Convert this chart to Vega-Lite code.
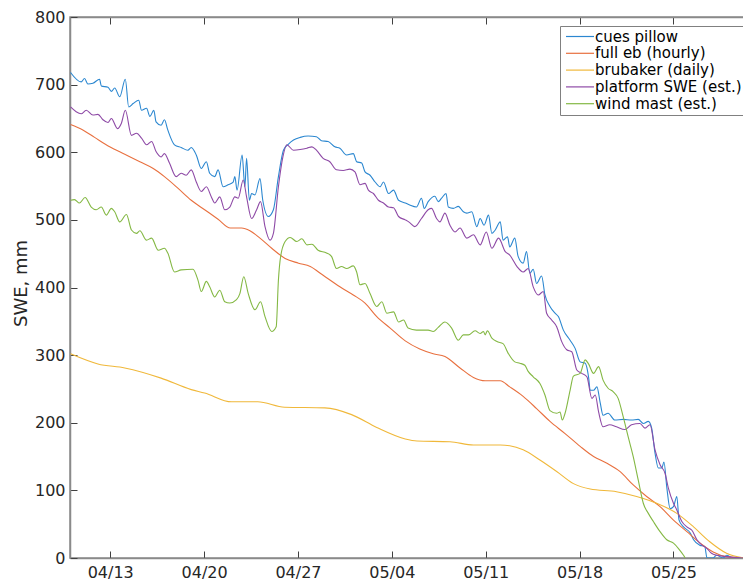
{
"$schema": "https://vega.github.io/schema/vega-lite/v6.json",
"width": 674, "height": 541,
"autosize": {"type": "none"},
"padding": {"left": 70, "top": 17, "right": 0, "bottom": 24},
"background": "white",
"config": {"view": {"stroke": "#8a8a8a", "strokeWidth": 1.5}, "font": "DejaVu Sans"},
"data": {"values": [
{"series":"cues pillow","time":"2017-04-10T01:00","swe":718},
{"series":"cues pillow","time":"2017-04-10T20:00","swe":704},
{"series":"cues pillow","time":"2017-04-11T02:00","swe":709},
{"series":"cues pillow","time":"2017-04-11T08:00","swe":701},
{"series":"cues pillow","time":"2017-04-11T17:00","swe":702},
{"series":"cues pillow","time":"2017-04-12T05:00","swe":708},
{"series":"cues pillow","time":"2017-04-12T08:00","swe":698},
{"series":"cues pillow","time":"2017-04-12T20:00","swe":696},
{"series":"cues pillow","time":"2017-04-13T02:00","swe":690},
{"series":"cues pillow","time":"2017-04-13T08:00","swe":695},
{"series":"cues pillow","time":"2017-04-13T17:00","swe":682},
{"series":"cues pillow","time":"2017-04-14T03:00","swe":708},
{"series":"cues pillow","time":"2017-04-14T09:00","swe":667},
{"series":"cues pillow","time":"2017-04-14T17:00","swe":672},
{"series":"cues pillow","time":"2017-04-15T03:00","swe":677},
{"series":"cues pillow","time":"2017-04-15T08:00","swe":662},
{"series":"cues pillow","time":"2017-04-15T17:00","swe":665},
{"series":"cues pillow","time":"2017-04-15T23:00","swe":653},
{"series":"cues pillow","time":"2017-04-16T06:00","swe":662},
{"series":"cues pillow","time":"2017-04-16T10:00","swe":645},
{"series":"cues pillow","time":"2017-04-16T19:00","swe":640},
{"series":"cues pillow","time":"2017-04-17T01:00","swe":648},
{"series":"cues pillow","time":"2017-04-17T07:00","swe":633},
{"series":"cues pillow","time":"2017-04-17T19:00","swe":611},
{"series":"cues pillow","time":"2017-04-18T07:00","swe":607},
{"series":"cues pillow","time":"2017-04-18T19:00","swe":603},
{"series":"cues pillow","time":"2017-04-19T01:00","swe":607},
{"series":"cues pillow","time":"2017-04-19T10:00","swe":596},
{"series":"cues pillow","time":"2017-04-19T19:00","swe":576},
{"series":"cues pillow","time":"2017-04-20T04:00","swe":586},
{"series":"cues pillow","time":"2017-04-20T10:00","swe":569},
{"series":"cues pillow","time":"2017-04-20T19:00","swe":564},
{"series":"cues pillow","time":"2017-04-21T01:00","swe":574},
{"series":"cues pillow","time":"2017-04-21T10:00","swe":549},
{"series":"cues pillow","time":"2017-04-21T19:00","swe":552},
{"series":"cues pillow","time":"2017-04-22T04:00","swe":556},
{"series":"cues pillow","time":"2017-04-22T07:00","swe":564},
{"series":"cues pillow","time":"2017-04-22T11:00","swe":544},
{"series":"cues pillow","time":"2017-04-22T20:00","swe":596},
{"series":"cues pillow","time":"2017-04-23T01:00","swe":549},
{"series":"cues pillow","time":"2017-04-23T04:00","swe":591},
{"series":"cues pillow","time":"2017-04-23T09:00","swe":529},
{"series":"cues pillow","time":"2017-04-23T13:00","swe":539},
{"series":"cues pillow","time":"2017-04-23T19:00","swe":537},
{"series":"cues pillow","time":"2017-04-24T04:00","swe":561},
{"series":"cues pillow","time":"2017-04-24T09:00","swe":529},
{"series":"cues pillow","time":"2017-04-24T19:00","swe":505},
{"series":"cues pillow","time":"2017-04-25T04:00","swe":515},
{"series":"cues pillow","time":"2017-04-25T13:00","swe":564},
{"series":"cues pillow","time":"2017-04-25T22:00","swe":603},
{"series":"cues pillow","time":"2017-04-26T07:00","swe":612},
{"series":"cues pillow","time":"2017-04-26T16:00","swe":618},
{"series":"cues pillow","time":"2017-04-27T04:00","swe":622},
{"series":"cues pillow","time":"2017-04-27T18:00","swe":624},
{"series":"cues pillow","time":"2017-04-28T09:00","swe":623},
{"series":"cues pillow","time":"2017-04-28T18:00","swe":617},
{"series":"cues pillow","time":"2017-04-29T06:00","swe":616},
{"series":"cues pillow","time":"2017-04-29T18:00","swe":608},
{"series":"cues pillow","time":"2017-04-30T03:00","swe":606},
{"series":"cues pillow","time":"2017-04-30T15:00","swe":596},
{"series":"cues pillow","time":"2017-05-01T03:00","swe":598},
{"series":"cues pillow","time":"2017-05-01T09:00","swe":586},
{"series":"cues pillow","time":"2017-05-01T18:00","swe":584},
{"series":"cues pillow","time":"2017-05-02T00:00","swe":571},
{"series":"cues pillow","time":"2017-05-02T09:00","swe":566},
{"series":"cues pillow","time":"2017-05-02T18:00","swe":556},
{"series":"cues pillow","time":"2017-05-03T03:00","swe":549},
{"series":"cues pillow","time":"2017-05-03T09:00","swe":556},
{"series":"cues pillow","time":"2017-05-03T18:00","swe":539},
{"series":"cues pillow","time":"2017-05-04T03:00","swe":544},
{"series":"cues pillow","time":"2017-05-04T12:00","swe":529},
{"series":"cues pillow","time":"2017-05-05T00:00","swe":525},
{"series":"cues pillow","time":"2017-05-05T08:00","swe":522},
{"series":"cues pillow","time":"2017-05-05T20:00","swe":519},
{"series":"cues pillow","time":"2017-05-06T05:00","swe":532},
{"series":"cues pillow","time":"2017-05-06T10:00","swe":517},
{"series":"cues pillow","time":"2017-05-06T17:00","swe":527},
{"series":"cues pillow","time":"2017-05-07T05:00","swe":535},
{"series":"cues pillow","time":"2017-05-07T11:00","swe":527},
{"series":"cues pillow","time":"2017-05-07T17:00","swe":532},
{"series":"cues pillow","time":"2017-05-08T01:00","swe":539},
{"series":"cues pillow","time":"2017-05-08T05:00","swe":519},
{"series":"cues pillow","time":"2017-05-08T14:00","swe":517},
{"series":"cues pillow","time":"2017-05-08T23:00","swe":520},
{"series":"cues pillow","time":"2017-05-09T08:00","swe":512},
{"series":"cues pillow","time":"2017-05-09T14:00","swe":510},
{"series":"cues pillow","time":"2017-05-09T23:00","swe":512},
{"series":"cues pillow","time":"2017-05-10T08:00","swe":490},
{"series":"cues pillow","time":"2017-05-10T14:00","swe":502},
{"series":"cues pillow","time":"2017-05-10T21:00","swe":492},
{"series":"cues pillow","time":"2017-05-11T05:00","swe":507},
{"series":"cues pillow","time":"2017-05-11T11:00","swe":480},
{"series":"cues pillow","time":"2017-05-11T17:00","swe":485},
{"series":"cues pillow","time":"2017-05-12T02:00","swe":497},
{"series":"cues pillow","time":"2017-05-12T07:00","swe":470},
{"series":"cues pillow","time":"2017-05-12T15:00","swe":475},
{"series":"cues pillow","time":"2017-05-12T19:00","swe":460},
{"series":"cues pillow","time":"2017-05-13T04:00","swe":473},
{"series":"cues pillow","time":"2017-05-13T10:00","swe":446},
{"series":"cues pillow","time":"2017-05-13T19:00","swe":436},
{"series":"cues pillow","time":"2017-05-14T01:00","swe":453},
{"series":"cues pillow","time":"2017-05-14T07:00","swe":421},
{"series":"cues pillow","time":"2017-05-14T13:00","swe":427},
{"series":"cues pillow","time":"2017-05-14T19:00","swe":406},
{"series":"cues pillow","time":"2017-05-15T04:00","swe":417},
{"series":"cues pillow","time":"2017-05-15T10:00","swe":389},
{"series":"cues pillow","time":"2017-05-15T19:00","swe":372},
{"series":"cues pillow","time":"2017-05-16T04:00","swe":362},
{"series":"cues pillow","time":"2017-05-16T10:00","swe":357},
{"series":"cues pillow","time":"2017-05-16T19:00","swe":337},
{"series":"cues pillow","time":"2017-05-17T07:00","swe":322},
{"series":"cues pillow","time":"2017-05-17T16:00","swe":310},
{"series":"cues pillow","time":"2017-05-18T01:00","swe":290},
{"series":"cues pillow","time":"2017-05-18T10:00","swe":288},
{"series":"cues pillow","time":"2017-05-18T16:00","swe":268},
{"series":"cues pillow","time":"2017-05-18T19:00","swe":248},
{"series":"cues pillow","time":"2017-05-19T01:00","swe":248},
{"series":"cues pillow","time":"2017-05-19T07:00","swe":253},
{"series":"cues pillow","time":"2017-05-19T13:00","swe":229},
{"series":"cues pillow","time":"2017-05-19T18:00","swe":211},
{"series":"cues pillow","time":"2017-05-20T03:00","swe":214},
{"series":"cues pillow","time":"2017-05-20T15:00","swe":204},
{"series":"cues pillow","time":"2017-05-21T06:00","swe":205},
{"series":"cues pillow","time":"2017-05-21T21:00","swe":204},
{"series":"cues pillow","time":"2017-05-22T09:00","swe":205},
{"series":"cues pillow","time":"2017-05-22T18:00","swe":199},
{"series":"cues pillow","time":"2017-05-23T03:00","swe":202},
{"series":"cues pillow","time":"2017-05-23T09:00","swe":192},
{"series":"cues pillow","time":"2017-05-23T15:00","swe":155},
{"series":"cues pillow","time":"2017-05-23T21:00","swe":133},
{"series":"cues pillow","time":"2017-05-24T03:00","swe":133},
{"series":"cues pillow","time":"2017-05-24T07:00","swe":142},
{"series":"cues pillow","time":"2017-05-24T12:00","swe":105},
{"series":"cues pillow","time":"2017-05-24T18:00","swe":73},
{"series":"cues pillow","time":"2017-05-25T00:00","swe":76},
{"series":"cues pillow","time":"2017-05-25T06:00","swe":91},
{"series":"cues pillow","time":"2017-05-25T10:00","swe":56},
{"series":"cues pillow","time":"2017-05-25T18:00","swe":46},
{"series":"cues pillow","time":"2017-05-26T06:00","swe":37},
{"series":"cues pillow","time":"2017-05-26T12:00","swe":27},
{"series":"cues pillow","time":"2017-05-26T23:00","swe":19},
{"series":"cues pillow","time":"2017-05-27T08:00","swe":17},
{"series":"cues pillow","time":"2017-05-27T12:00","swe":0},
{"series":"cues pillow","time":"2017-05-27T23:00","swe":0},
{"series":"cues pillow","time":"2017-05-28T05:00","swe":4},
{"series":"cues pillow","time":"2017-05-28T17:00","swe":0},
{"series":"cues pillow","time":"2017-05-28T23:00","swe":4},
{"series":"cues pillow","time":"2017-05-29T11:00","swe":0},
{"series":"cues pillow","time":"2017-05-30T06:00","swe":0},
{"series":"full eb (hourly)","time":"2017-04-10T01:00","swe":641},
{"series":"full eb (hourly)","time":"2017-04-10T23:00","swe":633},
{"series":"full eb (hourly)","time":"2017-04-11T20:00","swe":622},
{"series":"full eb (hourly)","time":"2017-04-12T23:00","swe":608},
{"series":"full eb (hourly)","time":"2017-04-14T02:00","swe":597},
{"series":"full eb (hourly)","time":"2017-04-15T05:00","swe":586},
{"series":"full eb (hourly)","time":"2017-04-16T05:00","swe":576},
{"series":"full eb (hourly)","time":"2017-04-17T01:00","swe":564},
{"series":"full eb (hourly)","time":"2017-04-18T01:00","swe":547},
{"series":"full eb (hourly)","time":"2017-04-19T01:00","swe":529},
{"series":"full eb (hourly)","time":"2017-04-20T01:00","swe":515},
{"series":"full eb (hourly)","time":"2017-04-21T01:00","swe":501},
{"series":"full eb (hourly)","time":"2017-04-21T23:00","swe":488},
{"series":"full eb (hourly)","time":"2017-04-22T19:00","swe":488},
{"series":"full eb (hourly)","time":"2017-04-23T10:00","swe":484},
{"series":"full eb (hourly)","time":"2017-04-24T04:00","swe":473},
{"series":"full eb (hourly)","time":"2017-04-25T01:00","swe":458},
{"series":"full eb (hourly)","time":"2017-04-26T01:00","swe":443},
{"series":"full eb (hourly)","time":"2017-04-27T01:00","swe":436},
{"series":"full eb (hourly)","time":"2017-04-27T22:00","swe":431},
{"series":"full eb (hourly)","time":"2017-04-28T21:00","swe":418},
{"series":"full eb (hourly)","time":"2017-04-30T03:00","swe":401},
{"series":"full eb (hourly)","time":"2017-05-01T03:00","swe":389},
{"series":"full eb (hourly)","time":"2017-05-02T00:00","swe":377},
{"series":"full eb (hourly)","time":"2017-05-02T21:00","swe":357},
{"series":"full eb (hourly)","time":"2017-05-03T21:00","swe":340},
{"series":"full eb (hourly)","time":"2017-05-05T00:00","swe":321},
{"series":"full eb (hourly)","time":"2017-05-06T02:00","swe":309},
{"series":"full eb (hourly)","time":"2017-05-07T02:00","swe":302},
{"series":"full eb (hourly)","time":"2017-05-07T23:00","swe":298},
{"series":"full eb (hourly)","time":"2017-05-09T02:00","swe":281},
{"series":"full eb (hourly)","time":"2017-05-10T02:00","swe":267},
{"series":"full eb (hourly)","time":"2017-05-10T23:00","swe":262},
{"series":"full eb (hourly)","time":"2017-05-12T02:00","swe":262},
{"series":"full eb (hourly)","time":"2017-05-12T19:00","swe":253},
{"series":"full eb (hourly)","time":"2017-05-13T19:00","swe":239},
{"series":"full eb (hourly)","time":"2017-05-14T19:00","swe":221},
{"series":"full eb (hourly)","time":"2017-05-15T19:00","swe":202},
{"series":"full eb (hourly)","time":"2017-05-16T22:00","swe":184},
{"series":"full eb (hourly)","time":"2017-05-18T01:00","swe":165},
{"series":"full eb (hourly)","time":"2017-05-19T01:00","swe":150},
{"series":"full eb (hourly)","time":"2017-05-20T01:00","swe":140},
{"series":"full eb (hourly)","time":"2017-05-21T00:00","swe":128},
{"series":"full eb (hourly)","time":"2017-05-22T00:00","swe":108},
{"series":"full eb (hourly)","time":"2017-05-23T00:00","swe":91},
{"series":"full eb (hourly)","time":"2017-05-24T00:00","swe":76},
{"series":"full eb (hourly)","time":"2017-05-25T00:00","swe":56},
{"series":"full eb (hourly)","time":"2017-05-26T00:00","swe":39},
{"series":"full eb (hourly)","time":"2017-05-27T00:00","swe":22},
{"series":"full eb (hourly)","time":"2017-05-27T23:00","swe":9},
{"series":"full eb (hourly)","time":"2017-05-28T23:00","swe":2},
{"series":"full eb (hourly)","time":"2017-05-30T06:00","swe":0},
{"series":"brubaker (daily)","time":"2017-04-10T01:00","swe":302},
{"series":"brubaker (daily)","time":"2017-04-12T02:00","swe":287},
{"series":"brubaker (daily)","time":"2017-04-14T02:00","swe":281},
{"series":"brubaker (daily)","time":"2017-04-16T19:00","swe":266},
{"series":"brubaker (daily)","time":"2017-04-19T01:00","swe":249},
{"series":"brubaker (daily)","time":"2017-04-20T01:00","swe":244},
{"series":"brubaker (daily)","time":"2017-04-22T01:00","swe":231},
{"series":"brubaker (daily)","time":"2017-04-24T00:00","swe":231},
{"series":"brubaker (daily)","time":"2017-04-26T00:00","swe":223},
{"series":"brubaker (daily)","time":"2017-04-29T00:00","swe":222},
{"series":"brubaker (daily)","time":"2017-05-01T00:00","swe":212},
{"series":"brubaker (daily)","time":"2017-05-02T21:00","swe":193},
{"series":"brubaker (daily)","time":"2017-05-05T00:00","swe":176},
{"series":"brubaker (daily)","time":"2017-05-05T21:00","swe":173},
{"series":"brubaker (daily)","time":"2017-05-08T08:00","swe":172},
{"series":"brubaker (daily)","time":"2017-05-10T02:00","swe":167},
{"series":"brubaker (daily)","time":"2017-05-12T02:00","swe":167},
{"series":"brubaker (daily)","time":"2017-05-12T19:00","swe":166},
{"series":"brubaker (daily)","time":"2017-05-13T19:00","swe":160},
{"series":"brubaker (daily)","time":"2017-05-15T01:00","swe":145},
{"series":"brubaker (daily)","time":"2017-05-16T07:00","swe":128},
{"series":"brubaker (daily)","time":"2017-05-17T13:00","swe":110},
{"series":"brubaker (daily)","time":"2017-05-18T19:00","swe":102},
{"series":"brubaker (daily)","time":"2017-05-20T18:00","swe":98},
{"series":"brubaker (daily)","time":"2017-05-22T06:00","swe":91},
{"series":"brubaker (daily)","time":"2017-05-23T18:00","swe":81},
{"series":"brubaker (daily)","time":"2017-05-25T06:00","swe":66},
{"series":"brubaker (daily)","time":"2017-05-26T12:00","swe":46},
{"series":"brubaker (daily)","time":"2017-05-27T17:00","swe":24},
{"series":"brubaker (daily)","time":"2017-05-28T23:00","swe":7},
{"series":"brubaker (daily)","time":"2017-05-30T06:00","swe":0},
{"series":"platform SWE (est.)","time":"2017-04-10T01:00","swe":667},
{"series":"platform SWE (est.)","time":"2017-04-10T11:00","swe":660},
{"series":"platform SWE (est.)","time":"2017-04-10T20:00","swe":657},
{"series":"platform SWE (est.)","time":"2017-04-11T05:00","swe":662},
{"series":"platform SWE (est.)","time":"2017-04-11T17:00","swe":655},
{"series":"platform SWE (est.)","time":"2017-04-12T02:00","swe":656},
{"series":"platform SWE (est.)","time":"2017-04-12T11:00","swe":648},
{"series":"platform SWE (est.)","time":"2017-04-12T20:00","swe":644},
{"series":"platform SWE (est.)","time":"2017-04-13T02:00","swe":650},
{"series":"platform SWE (est.)","time":"2017-04-13T13:00","swe":635},
{"series":"platform SWE (est.)","time":"2017-04-13T20:00","swe":643},
{"series":"platform SWE (est.)","time":"2017-04-14T03:00","swe":662},
{"series":"platform SWE (est.)","time":"2017-04-14T14:00","swe":625},
{"series":"platform SWE (est.)","time":"2017-04-14T23:00","swe":628},
{"series":"platform SWE (est.)","time":"2017-04-15T08:00","swe":621},
{"series":"platform SWE (est.)","time":"2017-04-15T17:00","swe":611},
{"series":"platform SWE (est.)","time":"2017-04-16T02:00","swe":616},
{"series":"platform SWE (est.)","time":"2017-04-16T10:00","swe":601},
{"series":"platform SWE (est.)","time":"2017-04-16T19:00","swe":593},
{"series":"platform SWE (est.)","time":"2017-04-17T01:00","swe":598},
{"series":"platform SWE (est.)","time":"2017-04-17T10:00","swe":584},
{"series":"platform SWE (est.)","time":"2017-04-17T22:00","swe":564},
{"series":"platform SWE (est.)","time":"2017-04-18T07:00","swe":569},
{"series":"platform SWE (est.)","time":"2017-04-18T16:00","swe":566},
{"series":"platform SWE (est.)","time":"2017-04-19T01:00","swe":574},
{"series":"platform SWE (est.)","time":"2017-04-19T10:00","swe":556},
{"series":"platform SWE (est.)","time":"2017-04-19T19:00","swe":542},
{"series":"platform SWE (est.)","time":"2017-04-20T04:00","swe":549},
{"series":"platform SWE (est.)","time":"2017-04-20T13:00","swe":534},
{"series":"platform SWE (est.)","time":"2017-04-20T19:00","swe":525},
{"series":"platform SWE (est.)","time":"2017-04-21T04:00","swe":534},
{"series":"platform SWE (est.)","time":"2017-04-21T13:00","swe":515},
{"series":"platform SWE (est.)","time":"2017-04-21T22:00","swe":519},
{"series":"platform SWE (est.)","time":"2017-04-22T07:00","swe":534},
{"series":"platform SWE (est.)","time":"2017-04-22T13:00","swe":532},
{"series":"platform SWE (est.)","time":"2017-04-22T22:00","swe":559},
{"series":"platform SWE (est.)","time":"2017-04-23T04:00","swe":534},
{"series":"platform SWE (est.)","time":"2017-04-23T13:00","swe":502},
{"series":"platform SWE (est.)","time":"2017-04-23T22:00","swe":515},
{"series":"platform SWE (est.)","time":"2017-04-24T05:00","swe":527},
{"series":"platform SWE (est.)","time":"2017-04-24T13:00","swe":490},
{"series":"platform SWE (est.)","time":"2017-04-24T22:00","swe":470},
{"series":"platform SWE (est.)","time":"2017-04-25T04:00","swe":480},
{"series":"platform SWE (est.)","time":"2017-04-25T13:00","swe":549},
{"series":"platform SWE (est.)","time":"2017-04-25T21:00","swe":593},
{"series":"platform SWE (est.)","time":"2017-04-26T04:00","swe":611},
{"series":"platform SWE (est.)","time":"2017-04-26T16:00","swe":603},
{"series":"platform SWE (est.)","time":"2017-04-27T04:00","swe":604},
{"series":"platform SWE (est.)","time":"2017-04-27T16:00","swe":606},
{"series":"platform SWE (est.)","time":"2017-04-28T01:00","swe":608},
{"series":"platform SWE (est.)","time":"2017-04-28T09:00","swe":603},
{"series":"platform SWE (est.)","time":"2017-04-28T21:00","swe":591},
{"series":"platform SWE (est.)","time":"2017-04-29T09:00","swe":586},
{"series":"platform SWE (est.)","time":"2017-04-29T21:00","swe":574},
{"series":"platform SWE (est.)","time":"2017-04-30T09:00","swe":573},
{"series":"platform SWE (est.)","time":"2017-04-30T21:00","swe":575},
{"series":"platform SWE (est.)","time":"2017-05-01T06:00","swe":571},
{"series":"platform SWE (est.)","time":"2017-05-01T15:00","swe":552},
{"series":"platform SWE (est.)","time":"2017-05-02T00:00","swe":554},
{"series":"platform SWE (est.)","time":"2017-05-02T06:00","swe":544},
{"series":"platform SWE (est.)","time":"2017-05-02T15:00","swe":539},
{"series":"platform SWE (est.)","time":"2017-05-03T00:00","swe":529},
{"series":"platform SWE (est.)","time":"2017-05-03T09:00","swe":525},
{"series":"platform SWE (est.)","time":"2017-05-03T18:00","swe":519},
{"series":"platform SWE (est.)","time":"2017-05-04T03:00","swe":518},
{"series":"platform SWE (est.)","time":"2017-05-04T12:00","swe":505},
{"series":"platform SWE (est.)","time":"2017-05-05T00:00","swe":500},
{"series":"platform SWE (est.)","time":"2017-05-05T08:00","swe":496},
{"series":"platform SWE (est.)","time":"2017-05-05T17:00","swe":490},
{"series":"platform SWE (est.)","time":"2017-05-06T05:00","swe":502},
{"series":"platform SWE (est.)","time":"2017-05-06T17:00","swe":515},
{"series":"platform SWE (est.)","time":"2017-05-06T23:00","swe":517},
{"series":"platform SWE (est.)","time":"2017-05-07T08:00","swe":502},
{"series":"platform SWE (est.)","time":"2017-05-07T14:00","swe":497},
{"series":"platform SWE (est.)","time":"2017-05-07T23:00","swe":510},
{"series":"platform SWE (est.)","time":"2017-05-08T08:00","swe":492},
{"series":"platform SWE (est.)","time":"2017-05-08T17:00","swe":482},
{"series":"platform SWE (est.)","time":"2017-05-09T02:00","swe":488},
{"series":"platform SWE (est.)","time":"2017-05-09T14:00","swe":473},
{"series":"platform SWE (est.)","time":"2017-05-10T02:00","swe":478},
{"series":"platform SWE (est.)","time":"2017-05-10T14:00","swe":463},
{"series":"platform SWE (est.)","time":"2017-05-11T01:00","swe":482},
{"series":"platform SWE (est.)","time":"2017-05-11T11:00","swe":458},
{"series":"platform SWE (est.)","time":"2017-05-11T23:00","swe":473},
{"series":"platform SWE (est.)","time":"2017-05-12T11:00","swe":453},
{"series":"platform SWE (est.)","time":"2017-05-12T19:00","swe":448},
{"series":"platform SWE (est.)","time":"2017-05-13T08:00","swe":431},
{"series":"platform SWE (est.)","time":"2017-05-13T19:00","swe":423},
{"series":"platform SWE (est.)","time":"2017-05-14T04:00","swe":428},
{"series":"platform SWE (est.)","time":"2017-05-14T13:00","swe":401},
{"series":"platform SWE (est.)","time":"2017-05-14T22:00","swe":389},
{"series":"platform SWE (est.)","time":"2017-05-15T07:00","swe":394},
{"series":"platform SWE (est.)","time":"2017-05-15T13:00","swe":362},
{"series":"platform SWE (est.)","time":"2017-05-15T22:00","swe":352},
{"series":"platform SWE (est.)","time":"2017-05-16T07:00","swe":342},
{"series":"platform SWE (est.)","time":"2017-05-16T16:00","swe":320},
{"series":"platform SWE (est.)","time":"2017-05-17T01:00","swe":308},
{"series":"platform SWE (est.)","time":"2017-05-17T10:00","swe":305},
{"series":"platform SWE (est.)","time":"2017-05-17T19:00","swe":278},
{"series":"platform SWE (est.)","time":"2017-05-18T04:00","swe":273},
{"series":"platform SWE (est.)","time":"2017-05-18T13:00","swe":268},
{"series":"platform SWE (est.)","time":"2017-05-18T22:00","swe":236},
{"series":"platform SWE (est.)","time":"2017-05-19T04:00","swe":241},
{"series":"platform SWE (est.)","time":"2017-05-19T10:00","swe":216},
{"series":"platform SWE (est.)","time":"2017-05-19T18:00","swe":194},
{"series":"platform SWE (est.)","time":"2017-05-20T06:00","swe":197},
{"series":"platform SWE (est.)","time":"2017-05-20T18:00","swe":194},
{"series":"platform SWE (est.)","time":"2017-05-21T09:00","swe":190},
{"series":"platform SWE (est.)","time":"2017-05-21T21:00","swe":197},
{"series":"platform SWE (est.)","time":"2017-05-22T12:00","swe":199},
{"series":"platform SWE (est.)","time":"2017-05-22T21:00","swe":192},
{"series":"platform SWE (est.)","time":"2017-05-23T06:00","swe":197},
{"series":"platform SWE (est.)","time":"2017-05-23T15:00","swe":160},
{"series":"platform SWE (est.)","time":"2017-05-24T00:00","swe":138},
{"series":"platform SWE (est.)","time":"2017-05-24T09:00","swe":125},
{"series":"platform SWE (est.)","time":"2017-05-24T15:00","swe":103},
{"series":"platform SWE (est.)","time":"2017-05-25T00:00","swe":81},
{"series":"platform SWE (est.)","time":"2017-05-25T06:00","swe":71},
{"series":"platform SWE (est.)","time":"2017-05-25T15:00","swe":54},
{"series":"platform SWE (est.)","time":"2017-05-26T00:00","swe":46},
{"series":"platform SWE (est.)","time":"2017-05-26T09:00","swe":41},
{"series":"platform SWE (est.)","time":"2017-05-26T18:00","swe":27},
{"series":"platform SWE (est.)","time":"2017-05-27T03:00","swe":19},
{"series":"platform SWE (est.)","time":"2017-05-27T12:00","swe":14},
{"series":"platform SWE (est.)","time":"2017-05-27T20:00","swe":7},
{"series":"platform SWE (est.)","time":"2017-05-28T05:00","swe":4},
{"series":"platform SWE (est.)","time":"2017-05-28T23:00","swe":2},
{"series":"platform SWE (est.)","time":"2017-05-30T06:00","swe":0},
{"series":"wind mast (est.)","time":"2017-04-10T01:00","swe":529},
{"series":"wind mast (est.)","time":"2017-04-10T08:00","swe":530},
{"series":"wind mast (est.)","time":"2017-04-10T17:00","swe":525},
{"series":"wind mast (est.)","time":"2017-04-11T03:00","swe":533},
{"series":"wind mast (est.)","time":"2017-04-11T14:00","swe":519},
{"series":"wind mast (est.)","time":"2017-04-11T23:00","swe":515},
{"series":"wind mast (est.)","time":"2017-04-12T08:00","swe":519},
{"series":"wind mast (est.)","time":"2017-04-12T17:00","swe":507},
{"series":"wind mast (est.)","time":"2017-04-13T02:00","swe":517},
{"series":"wind mast (est.)","time":"2017-04-13T08:00","swe":512},
{"series":"wind mast (est.)","time":"2017-04-13T17:00","swe":497},
{"series":"wind mast (est.)","time":"2017-04-14T05:00","swe":508},
{"series":"wind mast (est.)","time":"2017-04-14T14:00","swe":485},
{"series":"wind mast (est.)","time":"2017-04-14T23:00","swe":480},
{"series":"wind mast (est.)","time":"2017-04-15T05:00","swe":484},
{"series":"wind mast (est.)","time":"2017-04-15T17:00","swe":470},
{"series":"wind mast (est.)","time":"2017-04-16T02:00","swe":473},
{"series":"wind mast (est.)","time":"2017-04-16T14:00","swe":455},
{"series":"wind mast (est.)","time":"2017-04-17T01:00","swe":458},
{"series":"wind mast (est.)","time":"2017-04-17T07:00","swe":451},
{"series":"wind mast (est.)","time":"2017-04-17T19:00","swe":423},
{"series":"wind mast (est.)","time":"2017-04-18T07:00","swe":426},
{"series":"wind mast (est.)","time":"2017-04-19T04:00","swe":427},
{"series":"wind mast (est.)","time":"2017-04-19T13:00","swe":411},
{"series":"wind mast (est.)","time":"2017-04-19T19:00","swe":394},
{"series":"wind mast (est.)","time":"2017-04-20T04:00","swe":409},
{"series":"wind mast (est.)","time":"2017-04-20T10:00","swe":401},
{"series":"wind mast (est.)","time":"2017-04-20T19:00","swe":386},
{"series":"wind mast (est.)","time":"2017-04-21T04:00","swe":396},
{"series":"wind mast (est.)","time":"2017-04-21T13:00","swe":379},
{"series":"wind mast (est.)","time":"2017-04-21T22:00","swe":377},
{"series":"wind mast (est.)","time":"2017-04-22T10:00","swe":382},
{"series":"wind mast (est.)","time":"2017-04-22T16:00","swe":391},
{"series":"wind mast (est.)","time":"2017-04-22T23:00","swe":416},
{"series":"wind mast (est.)","time":"2017-04-23T07:00","swe":391},
{"series":"wind mast (est.)","time":"2017-04-23T19:00","swe":367},
{"series":"wind mast (est.)","time":"2017-04-24T05:00","swe":379},
{"series":"wind mast (est.)","time":"2017-04-24T13:00","swe":357},
{"series":"wind mast (est.)","time":"2017-04-25T01:00","swe":335},
{"series":"wind mast (est.)","time":"2017-04-25T09:00","swe":342},
{"series":"wind mast (est.)","time":"2017-04-25T13:00","swe":411},
{"series":"wind mast (est.)","time":"2017-04-25T17:00","swe":446},
{"series":"wind mast (est.)","time":"2017-04-26T01:00","swe":468},
{"series":"wind mast (est.)","time":"2017-04-26T10:00","swe":474},
{"series":"wind mast (est.)","time":"2017-04-26T22:00","swe":468},
{"series":"wind mast (est.)","time":"2017-04-27T07:00","swe":472},
{"series":"wind mast (est.)","time":"2017-04-27T16:00","swe":463},
{"series":"wind mast (est.)","time":"2017-04-28T01:00","swe":464},
{"series":"wind mast (est.)","time":"2017-04-28T12:00","swe":455},
{"series":"wind mast (est.)","time":"2017-04-29T03:00","swe":451},
{"series":"wind mast (est.)","time":"2017-04-29T12:00","swe":446},
{"series":"wind mast (est.)","time":"2017-04-29T21:00","swe":428},
{"series":"wind mast (est.)","time":"2017-04-30T06:00","swe":431},
{"series":"wind mast (est.)","time":"2017-04-30T15:00","swe":428},
{"series":"wind mast (est.)","time":"2017-05-01T03:00","swe":432},
{"series":"wind mast (est.)","time":"2017-05-01T09:00","swe":423},
{"series":"wind mast (est.)","time":"2017-05-01T15:00","swe":404},
{"series":"wind mast (est.)","time":"2017-05-02T00:00","swe":406},
{"series":"wind mast (est.)","time":"2017-05-02T09:00","swe":391},
{"series":"wind mast (est.)","time":"2017-05-02T21:00","swe":372},
{"series":"wind mast (est.)","time":"2017-05-03T06:00","swe":379},
{"series":"wind mast (est.)","time":"2017-05-03T15:00","swe":362},
{"series":"wind mast (est.)","time":"2017-05-04T03:00","swe":364},
{"series":"wind mast (est.)","time":"2017-05-04T12:00","swe":349},
{"series":"wind mast (est.)","time":"2017-05-04T21:00","swe":352},
{"series":"wind mast (est.)","time":"2017-05-05T05:00","swe":340},
{"series":"wind mast (est.)","time":"2017-05-05T20:00","swe":337},
{"series":"wind mast (est.)","time":"2017-05-06T17:00","swe":337},
{"series":"wind mast (est.)","time":"2017-05-07T02:00","swe":335},
{"series":"wind mast (est.)","time":"2017-05-07T11:00","swe":341},
{"series":"wind mast (est.)","time":"2017-05-07T23:00","swe":349},
{"series":"wind mast (est.)","time":"2017-05-08T11:00","swe":340},
{"series":"wind mast (est.)","time":"2017-05-08T23:00","swe":322},
{"series":"wind mast (est.)","time":"2017-05-09T08:00","swe":330},
{"series":"wind mast (est.)","time":"2017-05-09T17:00","swe":330},
{"series":"wind mast (est.)","time":"2017-05-10T05:00","swe":336},
{"series":"wind mast (est.)","time":"2017-05-10T14:00","swe":332},
{"series":"wind mast (est.)","time":"2017-05-10T20:00","swe":335},
{"series":"wind mast (est.)","time":"2017-05-10T23:00","swe":330},
{"series":"wind mast (est.)","time":"2017-05-11T03:00","swe":336},
{"series":"wind mast (est.)","time":"2017-05-11T11:00","swe":325},
{"series":"wind mast (est.)","time":"2017-05-11T20:00","swe":320},
{"series":"wind mast (est.)","time":"2017-05-12T07:00","swe":317},
{"series":"wind mast (est.)","time":"2017-05-12T16:00","swe":303},
{"series":"wind mast (est.)","time":"2017-05-13T04:00","swe":290},
{"series":"wind mast (est.)","time":"2017-05-13T13:00","swe":288},
{"series":"wind mast (est.)","time":"2017-05-13T22:00","swe":285},
{"series":"wind mast (est.)","time":"2017-05-14T04:00","swe":276},
{"series":"wind mast (est.)","time":"2017-05-14T13:00","swe":268},
{"series":"wind mast (est.)","time":"2017-05-15T01:00","swe":258},
{"series":"wind mast (est.)","time":"2017-05-15T10:00","swe":241},
{"series":"wind mast (est.)","time":"2017-05-15T19:00","swe":218},
{"series":"wind mast (est.)","time":"2017-05-16T07:00","swe":214},
{"series":"wind mast (est.)","time":"2017-05-16T13:00","swe":216},
{"series":"wind mast (est.)","time":"2017-05-16T17:00","swe":204},
{"series":"wind mast (est.)","time":"2017-05-16T22:00","swe":214},
{"series":"wind mast (est.)","time":"2017-05-17T07:00","swe":248},
{"series":"wind mast (est.)","time":"2017-05-17T13:00","swe":269},
{"series":"wind mast (est.)","time":"2017-05-18T01:00","swe":273},
{"series":"wind mast (est.)","time":"2017-05-18T10:00","swe":293},
{"series":"wind mast (est.)","time":"2017-05-18T16:00","swe":287},
{"series":"wind mast (est.)","time":"2017-05-19T01:00","swe":273},
{"series":"wind mast (est.)","time":"2017-05-19T10:00","swe":283},
{"series":"wind mast (est.)","time":"2017-05-19T18:00","swe":263},
{"series":"wind mast (est.)","time":"2017-05-20T03:00","swe":251},
{"series":"wind mast (est.)","time":"2017-05-20T12:00","swe":246},
{"series":"wind mast (est.)","time":"2017-05-20T21:00","swe":236},
{"series":"wind mast (est.)","time":"2017-05-21T06:00","swe":209},
{"series":"wind mast (est.)","time":"2017-05-21T15:00","swe":179},
{"series":"wind mast (est.)","time":"2017-05-22T00:00","swe":150},
{"series":"wind mast (est.)","time":"2017-05-22T09:00","swe":115},
{"series":"wind mast (est.)","time":"2017-05-22T18:00","swe":81},
{"series":"wind mast (est.)","time":"2017-05-23T03:00","swe":66},
{"series":"wind mast (est.)","time":"2017-05-23T12:00","swe":54},
{"series":"wind mast (est.)","time":"2017-05-24T00:00","swe":39},
{"series":"wind mast (est.)","time":"2017-05-24T12:00","swe":27},
{"series":"wind mast (est.)","time":"2017-05-25T00:00","swe":22},
{"series":"wind mast (est.)","time":"2017-05-25T09:00","swe":14},
{"series":"wind mast (est.)","time":"2017-05-25T18:00","swe":4},
{"series":"wind mast (est.)","time":"2017-05-25T21:00","swe":0}
]},
"layer": [
{
"mark": {"type": "line", "strokeWidth": 1.1, "interpolate": "monotone", "clip": true},
"encoding": {
"x": {"field": "time", "type": "temporal",
"scale": {"domain": [{"year": 2017, "month": 4, "date": 10}, {"year": 2017, "month": 5, "date": 30, "hours": 6, "minutes": 14}]},
"axis": {"orient": "bottom", "title": null, "format": "%m/%d", "grid": false,
"values": [{"year": 2017, "month": 4, "date": 13}, {"year": 2017, "month": 4, "date": 20}, {"year": 2017, "month": 4, "date": 27}, {"year": 2017, "month": 5, "date": 4}, {"year": 2017, "month": 5, "date": 11}, {"year": 2017, "month": 5, "date": 18}, {"year": 2017, "month": 5, "date": 25}],
"labelFont": "DejaVu Sans", "labelFontSize": 16, "labelColor": "#262626", "labelPadding": 13.4, "labelFlush": false, "labelOverlap": false,
"tickSize": -7, "tickColor": "#404040", "tickWidth": 1, "domainColor": "#8a8a8a", "domainWidth": 1.5}},
"y": {"field": "swe", "type": "quantitative",
"scale": {"domain": [0, 800], "nice": false, "zero": true},
"axis": {"title": "SWE, mm", "titleFont": "DejaVu Sans", "titleFontSize": 18, "titleFontWeight": "normal", "titleColor": "#262626",
"titleAngle": 270, "titleAlign": "center", "titleBaseline": "middle", "titleX": -49, "titleY": 266,
"values": [0, 100, 200, 300, 400, 500, 600, 700, 800], "grid": false,
"labelFont": "DejaVu Sans", "labelFontSize": 16, "labelColor": "#262626", "labelPadding": 12,
"tickSize": -7, "tickColor": "#404040", "tickWidth": 1, "domainColor": "#8a8a8a", "domainWidth": 1.5}},
"color": {"field": "series", "type": "nominal",
"scale": {"domain": ["cues pillow", "full eb (hourly)", "brubaker (daily)", "platform SWE (est.)", "wind mast (est.)"],
"range": ["#2b87d0", "#e8703f", "#f0b83a", "#8e4aa6", "#84b844"]},
"legend": {"orient": "none", "legendX": 490, "legendY": 9, "title": null,
"symbolType": "M-4,0H4", "symbolSize": 49, "symbolStrokeWidth": 1.2, "symbolOffset": 9.5,
"labelOffset": 7.5, "labelFont": "DejaVu Sans", "labelFontSize": 15, "labelColor": "#000000", "labelLimit": 400,
"strokeColor": "#808080", "fillColor": "white", "padding": 3, "rowPadding": 0.8}}
}
},
{
"mark": {"type": "line", "opacity": 0},
"encoding": {
"x": {"field": "time", "type": "temporal",
"axis": {"orient": "top", "title": null, "labels": false, "grid": false,
"values": [{"year": 2017, "month": 4, "date": 13}, {"year": 2017, "month": 4, "date": 20}, {"year": 2017, "month": 4, "date": 27}, {"year": 2017, "month": 5, "date": 4}, {"year": 2017, "month": 5, "date": 11}, {"year": 2017, "month": 5, "date": 18}, {"year": 2017, "month": 5, "date": 25}],
"tickSize": -7, "tickColor": "#404040", "tickWidth": 1, "domainColor": "#8a8a8a", "domainWidth": 1.5}},
"y": {"field": "swe", "type": "quantitative"},
"detail": {"field": "series", "type": "nominal"}
}
}
],
"resolve": {"axis": {"x": "independent"}}
}
